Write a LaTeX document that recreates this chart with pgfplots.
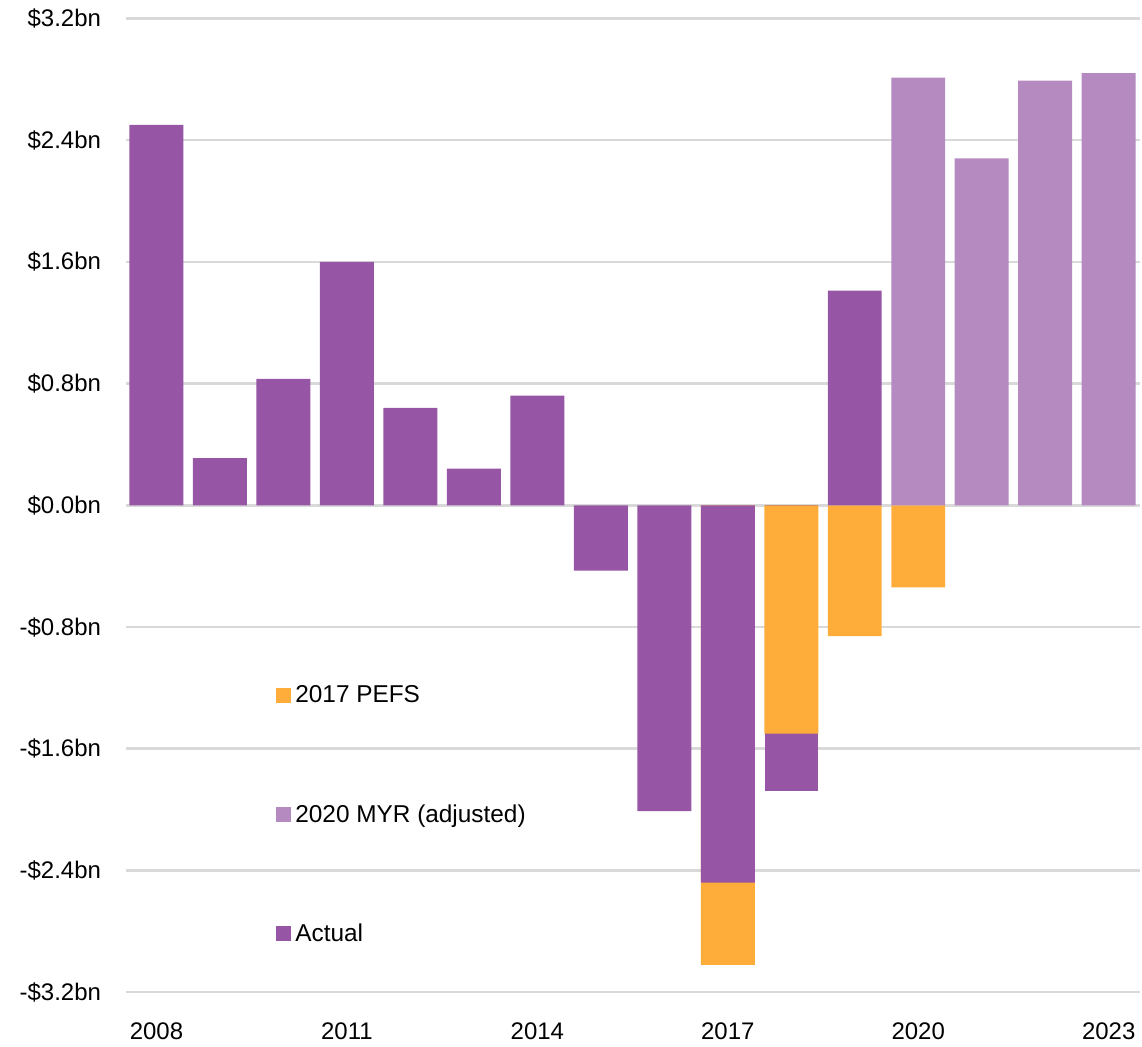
\documentclass[border=0pt]{standalone}
\usepackage{pgfplots}
\pgfplotsset{compat=1.18}
\usepackage{fontspec}
\setmainfont{Liberation Sans}
\definecolor{actual}{HTML}{9656A5}
\definecolor{myr}{HTML}{B58AC1}
\definecolor{pefs}{HTML}{FFAD3A}
\definecolor{gridc}{HTML}{D9D9D9}
\begin{document}
\begin{tikzpicture}
\begin{axis}[
  scale only axis, width=507.5pt, height=487.5pt,
  xmin=2007.52, xmax=2023.49, ymin=-3.2, ymax=3.2,
  axis line style={draw=none},
  major tick length=0pt,
  ymajorgrids, grid style={draw=gridc, line width=1.3pt},
  ytick={-3.2,-2.4,-1.6,-0.8,0,0.8,1.6,2.4,3.2},
  yticklabels={-\$3.2bn,-\$2.4bn,-\$1.6bn,-\$0.8bn,\$0.0bn,\$0.8bn,\$1.6bn,\$2.4bn,\$3.2bn},
  xtick={2008,2011,2014,2017,2020,2023},
  xticklabels={2008,2011,2014,2017,2020,2023},
  tick label style={font=\fontsize{12}{14}\selectfont},
  yticklabel style={xshift=-9pt},
  xticklabel style={yshift=-12pt},
  ybar, bar width=0.85,
  legend style={draw=none, fill=none, at={(0.148,0.319)}, anchor=north west,
    inner sep=0pt, row sep=45.3pt, font=\fontsize{12.2}{14}\selectfont,
    nodes={inner sep=2pt}},
  legend cell align=left,
  legend image code/.code={\fill[#1,draw=none] (0pt,-3.75pt) rectangle (7.5pt,3.75pt);},
]
% Actual (behind PEFS) for 2018
\addplot[fill=actual, draw=none, bar shift=0pt, bar width=0.835, forget plot] coordinates {(2018,-1.88)};
% 2017 PEFS
\addplot[fill=pefs, draw=none, bar shift=0pt] coordinates {(2017,-3.02) (2018,-1.50) (2019,-0.86) (2020,-0.54)};
\addlegendentry{2017 PEFS}
% 2020 MYR (adjusted)
\addplot[fill=myr, draw=none, bar shift=0pt] coordinates {(2020,2.81) (2021,2.28) (2022,2.79) (2023,2.84)};
\addlegendentry{2020 MYR (adjusted)}
% Actual
\addplot[fill=actual, draw=none, bar shift=0pt] coordinates {
 (2008,2.50) (2009,0.31) (2010,0.83) (2011,1.60) (2012,0.64) (2013,0.24)
 (2014,0.72) (2015,-0.43) (2016,-2.01) (2017,-2.48) (2019,1.41)};
\addlegendentry{Actual}
\end{axis}
\path (current bounding box.west) -- ++(-6.5pt,0);
\path (current bounding box.north) -- ++(0,1pt);
\end{tikzpicture}
\end{document}
